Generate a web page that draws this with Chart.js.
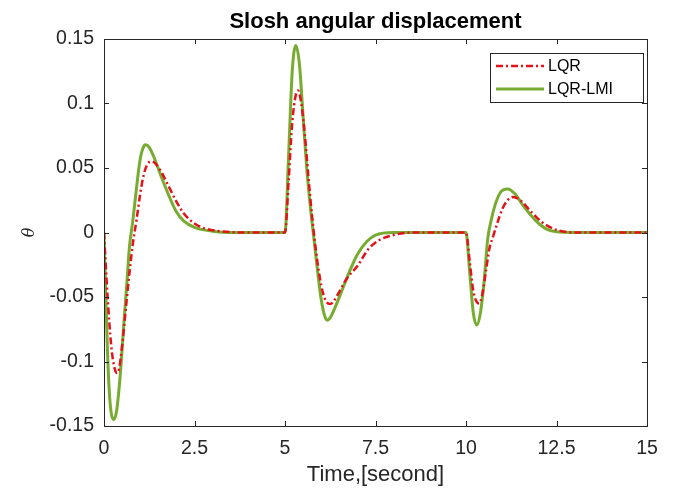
<!DOCTYPE html>
<html>
<head>
<meta charset="utf-8">
<script src="https://cdn.jsdelivr.net/npm/chart.js@4.4.0/dist/chart.umd.min.js"></script>
<style>
  html, body { margin: 0; padding: 0; background: #fff; }
  #wrap { width: 675px; height: 488px; }
</style>
</head>
<body>
<div id="wrap"><canvas id="slosh-chart"></canvas></div>
<script>
// Values
const chartTitle = "Slosh angular displacement";
const xTicks = [0, 2.5, 5, 7.5, 10, 12.5, 15];
const xTickLabels = ["0", "2.5", "5", "7.5", "10", "12.5", "15"];
const yTicks = [-0.15, -0.1, -0.05, 0, 0.05, 0.1, 0.15];
const yTickLabels = ["-0.15", "-0.1", "-0.05", "0", "0.05", "0.1", "0.15"];

// LQR (red dash-dot)
const lqrTime = [
  0, 0.1, 0.2, 0.3, 0.36, 0.42, 0.5, 0.6, 0.7, 0.8, 0.9, 1.0, 1.1, 1.2, 1.3, 1.4,
  1.6, 1.8, 2.0, 2.2, 2.5, 2.8, 3.2, 3.8, 5.0,
  5.1, 5.2, 5.3, 5.36, 5.45, 5.55, 5.65, 5.75, 5.85, 5.95, 6.05, 6.15, 6.25, 6.35,
  6.5, 6.7, 7.0, 7.3, 7.6, 8.0, 8.5, 10.0,
  10.1, 10.2, 10.3, 10.36, 10.45, 10.55, 10.65, 10.75, 10.85, 11.0, 11.15, 11.3,
  11.5, 11.8, 12.1, 12.5, 13.0, 15.0
];
const lqrTheta = [
  0, -0.05, -0.088, -0.106, -0.109, -0.105, -0.088, -0.06, -0.032, -0.008, 0.01, 0.03, 0.045, 0.053, 0.055, 0.054,
  0.046, 0.035, 0.024, 0.015, 0.007, 0.003, 0.001, 0, 0,
  0.04, 0.085, 0.107, 0.11, 0.1, 0.075, 0.042, 0.012, -0.013, -0.033, -0.047, -0.054, -0.0555, -0.053,
  -0.046, -0.036, -0.026, -0.013, -0.006, -0.002, 0, 0,
  -0.022, -0.045, -0.054, -0.055, -0.048, -0.03, -0.012, -0.003, 0.006, 0.018, 0.025, 0.0275,
  0.025, 0.016, 0.008, 0.002, 0, 0
];

// LQR-LMI (green solid)
const lmiTime = [
  0, 0.05, 0.1, 0.15, 0.2, 0.27, 0.35, 0.45, 0.55, 0.65, 0.7, 0.8, 0.9, 1.0, 1.1, 1.15,
  1.25, 1.4, 1.6, 1.8, 2.0, 2.2, 2.5, 3.0, 3.5, 5.0,
  5.1, 5.2, 5.3, 5.4, 5.5, 5.6, 5.7, 5.8, 5.9, 6.0, 6.1, 6.17, 6.25, 6.4, 6.6,
  6.8, 7.0, 7.26, 7.5, 8.0, 10.0,
  10.1, 10.2, 10.3, 10.4, 10.5, 10.6, 10.7, 10.8, 10.95, 11.15, 11.35, 11.6, 11.9,
  12.2, 12.5, 13.0, 15.0
];
const lmiTheta = [
  0, -0.05, -0.095, -0.125, -0.14, -0.145, -0.138, -0.11, -0.07, -0.032, -0.012, 0.01, 0.035, 0.057, 0.067, 0.068,
  0.066, 0.057, 0.042, 0.028, 0.016, 0.009, 0.004, 0.001, 0, 0,
  0.06, 0.125, 0.145, 0.13, 0.09, 0.05, 0.02, -0.005, -0.03, -0.052, -0.065, -0.068, -0.066, -0.057, -0.043,
  -0.029, -0.017, -0.007, -0.002, 0, 0,
  -0.03, -0.062, -0.0717, -0.062, -0.038, -0.005, 0.01, 0.021, 0.031, 0.0337, 0.03, 0.02, 0.01,
  0.003, 0.0005, 0, 0
];

const axisColor = "#262626";
const fontFamily = "'Liberation Sans', Arial, sans-serif";

function toPoints(xs, ys) {
  return xs.map((x, i) => ({ x: x, y: ys[i] }));
}

// Title centred over the plot box (Chart.js would centre it on the canvas)
const plotTitlePlugin = {
  id: "plotTitle",
  afterDraw(chart) {
    const { ctx, chartArea: a } = chart;
    ctx.save();
    ctx.fillStyle = "#000";
    ctx.font = "bold 22px " + fontFamily;
    ctx.textAlign = "center";
    ctx.textBaseline = "alphabetic";
    ctx.fillText(chartTitle, (a.left + a.right) / 2, 28);
    ctx.restore();
  },
};

// Box round the plot with MATLAB-style inward ticks on all sides
const framePlugin = {
  id: "frame",
  afterDraw(chart) {
    const { ctx, chartArea: a, scales } = chart;
    const len = 5;
    ctx.save();
    ctx.strokeStyle = axisColor;
    ctx.lineWidth = 1;
    ctx.strokeRect(a.left + 0.5, a.top + 0.5, a.right - a.left, a.bottom - a.top);
    ctx.beginPath();
    scales.x.ticks.forEach((t) => {
      const px = Math.round(scales.x.getPixelForValue(t.value)) + 0.5;
      ctx.moveTo(px, a.bottom);
      ctx.lineTo(px, a.bottom - len);
      ctx.moveTo(px, a.top);
      ctx.lineTo(px, a.top + len);
    });
    scales.y.ticks.forEach((t) => {
      const py = Math.round(scales.y.getPixelForValue(t.value)) + 0.5;
      ctx.moveTo(a.left, py);
      ctx.lineTo(a.left + len, py);
      ctx.moveTo(a.right, py);
      ctx.lineTo(a.right - len, py);
    });
    ctx.stroke();
    ctx.restore();
  },
};

// Legend box inside the plot, top right
const boxLegendPlugin = {
  id: "boxLegend",
  afterDraw(chart) {
    const { ctx } = chart;
    const box = { left: 490, top: 53, right: 643, bottom: 102 };
    const rows = [66, 89];
    ctx.save();
    ctx.fillStyle = "#fff";
    ctx.fillRect(box.left, box.top, box.right - box.left, box.bottom - box.top);
    ctx.strokeStyle = axisColor;
    ctx.lineWidth = 1;
    ctx.strokeRect(box.left + 0.5, box.top + 0.5, box.right - box.left, box.bottom - box.top);
    chart.data.datasets.forEach((ds, i) => {
      const y = rows[i];
      ctx.beginPath();
      ctx.strokeStyle = ds.borderColor;
      ctx.lineWidth = ds.borderWidth;
      ctx.setLineDash(ds.borderDash || []);
      ctx.moveTo(496, y);
      ctx.lineTo(544, y);
      ctx.stroke();
      ctx.setLineDash([]);
      ctx.fillStyle = "#000";
      ctx.font = "16px " + fontFamily;
      ctx.textBaseline = "middle";
      ctx.textAlign = "left";
      ctx.fillText(ds.label, 548, y + 1);
    });
    ctx.restore();
  },
};

const ctx = document.getElementById("slosh-chart").getContext("2d");
new Chart(ctx, {
  type: "line",
  data: {
    datasets: [
      {
        label: "LQR",
        data: toPoints(lqrTime, lqrTheta),
        borderColor: "#e3121b",
        borderWidth: 2.5,
        borderDash: [7, 3, 2, 3],
        pointRadius: 0,
        cubicInterpolationMode: "monotone",
        order: 1,
      },
      {
        label: "LQR-LMI",
        data: toPoints(lmiTime, lmiTheta),
        borderColor: "#77ac30",
        borderWidth: 3,
        pointRadius: 0,
        cubicInterpolationMode: "monotone",
        order: 2,
      },
    ],
  },
  options: {
    responsive: true,
    maintainAspectRatio: false,
    animation: false,
    layout: { padding: { left: 0, right: 28, top: 39, bottom: 0 } },
    plugins: {
      legend: { display: false },
      tooltip: { enabled: false },
      title: { display: false },
    },
    scales: {
      x: {
        type: "linear",
        min: 0,
        max: 15,
        grid: { display: false, drawTicks: false },
        border: { display: false },
        afterBuildTicks: (scale) => {
          scale.ticks = xTicks.map((v) => ({ value: v }));
        },
        afterFit: (scale) => {
          scale.height = 62;
        },
        ticks: {
          color: axisColor,
          padding: 11,
          maxRotation: 0,
          font: { family: fontFamily, size: 19.5 },
          callback: (value) => xTickLabels[xTicks.indexOf(value)],
        },
        title: {
          display: true,
          text: "Time,[second]",
          color: axisColor,
          font: { family: fontFamily, size: 22 },
          padding: { top: 0, bottom: 0 },
        },
      },
      y: {
        type: "linear",
        min: -0.15,
        max: 0.15,
        grid: { display: false, drawTicks: false },
        border: { display: false },
        afterBuildTicks: (scale) => {
          scale.ticks = yTicks.map((v) => ({ value: v }));
        },
        afterFit: (scale) => {
          scale.width = 104;
        },
        ticks: {
          color: axisColor,
          padding: 10,
          font: { family: fontFamily, size: 19.5 },
          callback: (value) => yTickLabels[yTicks.indexOf(value)],
        },
        title: {
          display: true,
          text: "θ",
          color: axisColor,
          font: { family: "'DejaVu Serif', serif", size: 16, style: "italic" },
          padding: { top: 20, bottom: 0 },
        },
      },
    },
  },
  plugins: [framePlugin, boxLegendPlugin, plotTitlePlugin],
});
</script>
</body>
</html>
